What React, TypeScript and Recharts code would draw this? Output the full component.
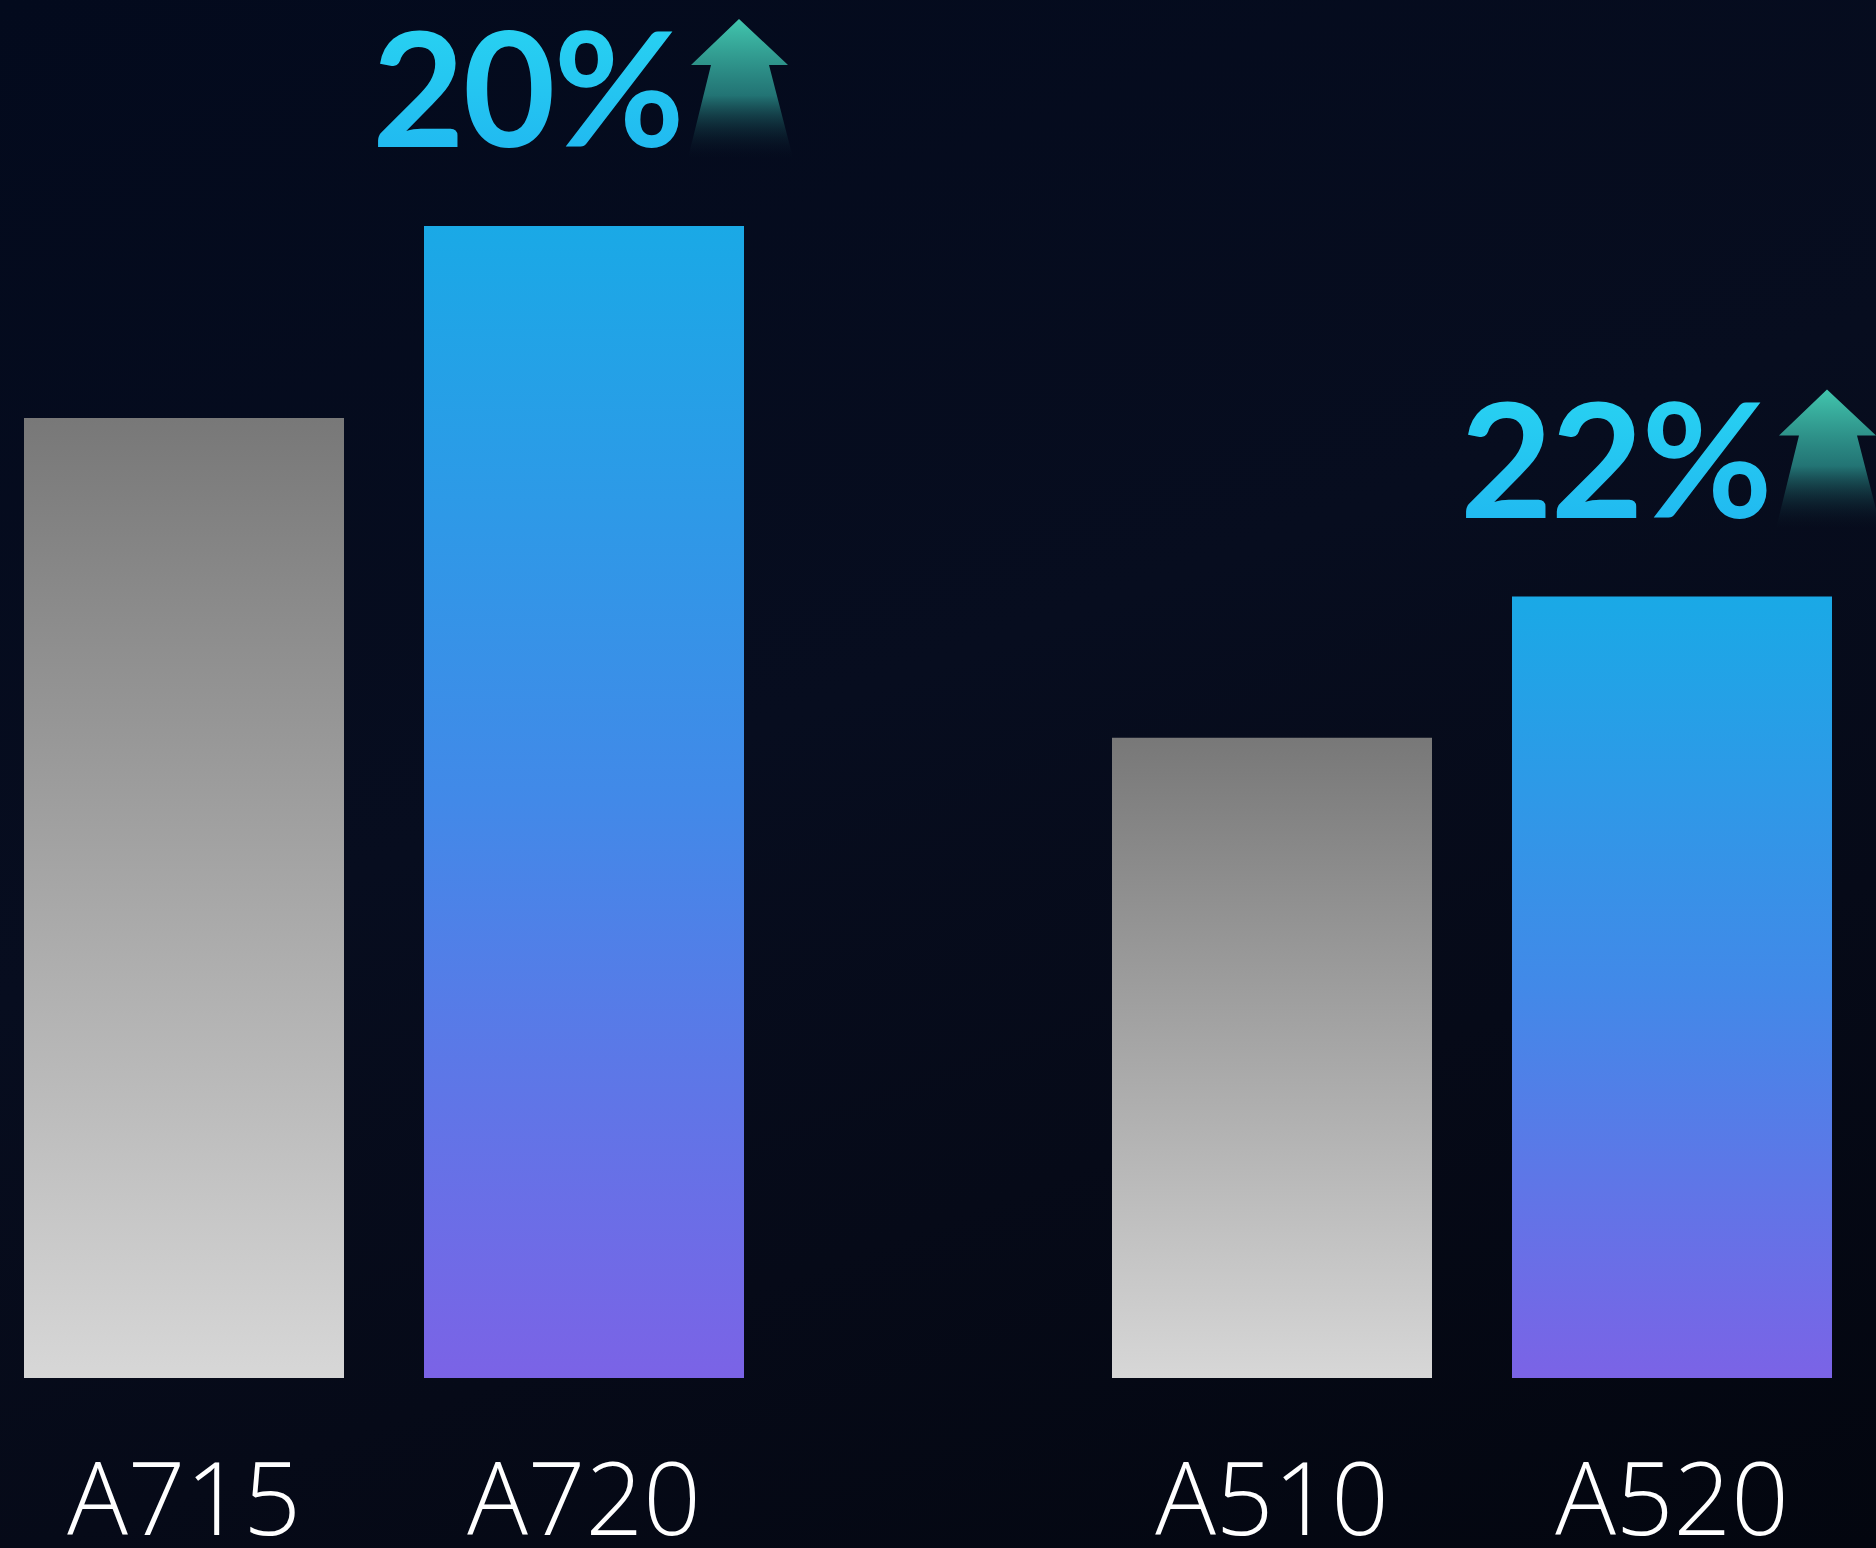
import React from 'react';
import { BarChart, Bar, XAxis, YAxis, LabelList } from 'recharts';

const groups = ['A7', 'A5'];
const oldNames = ['A715', 'A510'];
const newNames = ['A720', 'A520'];
const oldValues = [100, 66.7];
const newValues = [120, 81.4];
const growthLabels = ['20%', '22%'];

const data = groups.map((g, i) => ({
  group: g,
  oldName: oldNames[i],
  newName: newNames[i],
  oldValue: oldValues[i],
  newValue: newValues[i],
  growth: growthLabels[i],
}));

const FONT = "'Open Sans', 'Noto Sans', sans-serif";
const PCT_FONT = "Lato, 'Open Sans', sans-serif";

const getBox = (p: any) => {
  const vb = p.viewBox || {};
  const x = p.x ?? vb.x;
  const y = p.y ?? vb.y;
  const width = p.width ?? vb.width;
  const height = p.height ?? vb.height;
  return { x: Number(x), y: Number(y), width: Number(width), height: Number(height) };
};

const renderName = (p: any) => {
  const { x, y, width, height } = getBox(p);
  return (
    <text
      x={x + width / 2}
      y={y + height + 157}
      textAnchor="middle"
      fill="#ffffff"
      fontFamily={FONT}
      fontWeight={300}
      fontSize={101}
    >
      {p.value}
    </text>
  );
};

const renderGrowth = (p: any) => {
  const { x, y } = getBox(p);
  const pts = [
    [315, -207],
    [364, -161],
    [345, -161],
    [369, -68],
    [264, -68],
    [287, -161],
    [267, -161],
  ]
    .map(([dx, dy]) => `${x + dx},${y + dy}`)
    .join(' ');
  return (
    <g>
      <polygon points={pts} fill="url(#arrowGrad)" />
      <text
        x={x - 52}
        y={y - 79}
        textAnchor="start"
        fill="url(#cyanText)"
        fontFamily={PCT_FONT}
        fontWeight={700}
        fontSize={160}
        letterSpacing={-2}
      >
        {p.value}
      </text>
    </g>
  );
};

export default function App() {
  return (
    <div
      style={{
        position: 'absolute',
        left: 0,
        top: 0,
        width: 1876,
        height: 1548,
        overflow: 'hidden',
        background: 'linear-gradient(160deg, #030a1d 0%, #070d1f 45%, #060a18 70%, #03060f 100%)',
      }}
    >
      <div style={{ position: 'absolute', left: -160, top: 0 }}>
        <BarChart
          width={2176}
          height={1548}
          data={data}
          margin={{ top: 226, right: 0, bottom: 170, left: 0 }}
          barSize={320}
          barGap={80}
        >
          <defs>
            <linearGradient id="grayGrad" x1="0" y1="0" x2="0" y2="1">
              <stop offset="0%" stopColor="#787878" />
              <stop offset="100%" stopColor="#d7d7d7" />
            </linearGradient>
            <linearGradient id="blueGrad" x1="0" y1="0" x2="0" y2="1">
              <stop offset="0%" stopColor="#1aa9e6" />
              <stop offset="50%" stopColor="#4289e8" />
              <stop offset="100%" stopColor="#7b63e6" />
            </linearGradient>
            <linearGradient id="cyanText" x1="0" y1="0" x2="0" y2="1">
              <stop offset="0%" stopColor="#2ad8f2" />
              <stop offset="100%" stopColor="#1fb4f0" />
            </linearGradient>
            <linearGradient id="arrowGrad" x1="0" y1="0" x2="0" y2="1">
              <stop offset="0%" stopColor="#42c6ae" />
              <stop offset="55%" stopColor="#2a8e8a" stopOpacity={0.8} />
              <stop offset="100%" stopColor="#0c1c2a" stopOpacity={0} />
            </linearGradient>
          </defs>
          <XAxis dataKey="group" hide />
          <YAxis hide domain={[0, 120]} />
          <Bar dataKey="oldValue" fill="url(#grayGrad)" isAnimationActive={false}>
            <LabelList dataKey="oldName" content={renderName} />
          </Bar>
          <Bar dataKey="newValue" fill="url(#blueGrad)" isAnimationActive={false}>
            <LabelList dataKey="newName" content={renderName} />
            <LabelList dataKey="growth" content={renderGrowth} />
          </Bar>
        </BarChart>
      </div>
    </div>
  );
}
